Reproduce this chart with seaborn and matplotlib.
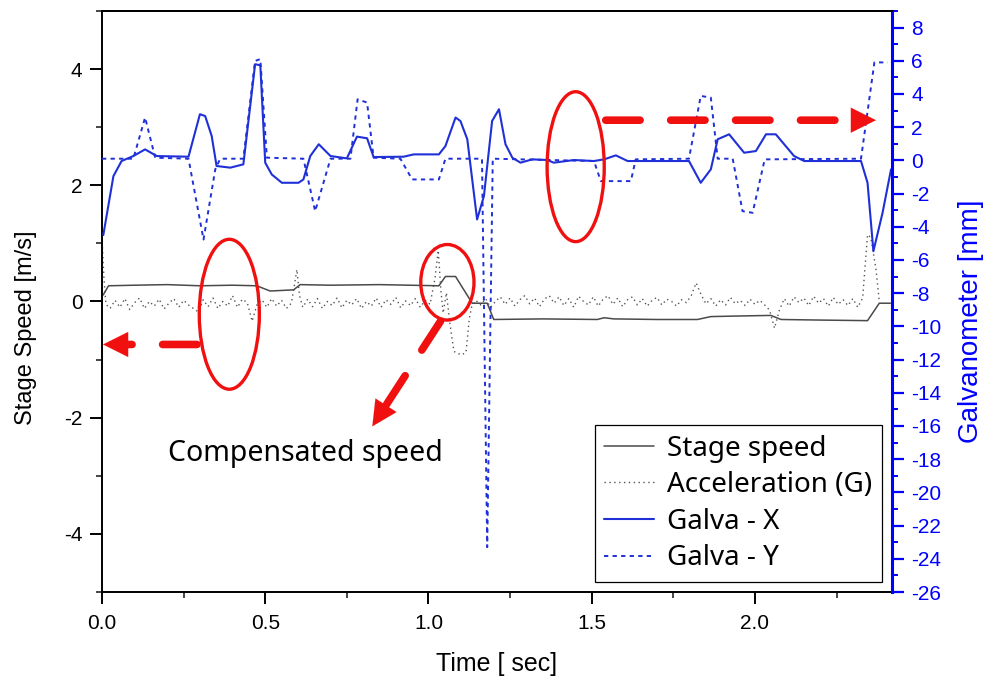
import matplotlib
matplotlib.use("Agg")
import matplotlib.pyplot as plt
import pandas as pd
import seaborn as sns
from matplotlib.patches import Ellipse
from matplotlib.ticker import MultipleLocator

# stage speed [m/s], left axis
speed_t = [0.0, 0.004, 0.02, 0.10, 0.20, 0.30, 0.40, 0.474, 0.515, 0.587, 0.607, 0.70, 0.85,
           1.032, 1.052, 1.083, 1.134, 1.18, 1.20, 1.35, 1.517, 1.538, 1.568, 1.70, 1.824,
           1.865, 1.95, 2.049, 2.08, 2.20, 2.345, 2.381, 2.415]
speed_v = [0.10, 0.115, 0.27, 0.28, 0.29, 0.27, 0.28, 0.27, 0.18, 0.20, 0.29, 0.28, 0.29,
           0.27, 0.43, 0.43, -0.03, -0.03, -0.31, -0.30, -0.31, -0.28, -0.30, -0.31, -0.31,
           -0.26, -0.25, -0.24, -0.31, -0.32, -0.33, -0.03, -0.03]

# acceleration (G), left axis
accel_t = [0.000, 0.006, 0.012, 0.025, 0.04, 0.055, 0.07, 0.085, 0.10, 0.115, 0.13, 0.145,
           0.16, 0.175, 0.19, 0.205, 0.22, 0.235, 0.25, 0.265, 0.28, 0.295, 0.31, 0.325,
           0.34, 0.355, 0.37, 0.385, 0.40, 0.415, 0.43, 0.445, 0.46, 0.475, 0.49, 0.505,
           0.52, 0.535, 0.55, 0.565, 0.58, 0.59, 0.597, 0.605, 0.615, 0.63, 0.645, 0.66,
           0.675, 0.69, 0.705, 0.72, 0.735, 0.75, 0.765, 0.78, 0.795, 0.81, 0.825, 0.84,
           0.855, 0.87, 0.885, 0.90, 0.915, 0.93, 0.945, 0.96, 0.975, 0.99, 1.005, 1.02,
           1.03, 1.038, 1.045, 1.055, 1.065, 1.078, 1.10, 1.115, 1.125, 1.132, 1.145, 1.16,
           1.175, 1.19, 1.205, 1.22, 1.235, 1.25, 1.265, 1.28, 1.295, 1.31, 1.325, 1.34,
           1.355, 1.37, 1.385, 1.40, 1.415, 1.43, 1.445, 1.46, 1.475, 1.49, 1.505, 1.52,
           1.535, 1.55, 1.565, 1.58, 1.595, 1.61, 1.625, 1.64, 1.655, 1.67, 1.685, 1.70,
           1.715, 1.73, 1.745, 1.76, 1.775, 1.79, 1.805, 1.82, 1.835, 1.85, 1.865, 1.88,
           1.895, 1.91, 1.925, 1.94, 1.955, 1.97, 1.985, 2.00, 2.015, 2.03, 2.045, 2.06,
           2.075, 2.09, 2.105, 2.12, 2.135, 2.15, 2.165, 2.18, 2.195, 2.21, 2.225, 2.24,
           2.255, 2.27, 2.285, 2.30, 2.315, 2.33, 2.345, 2.355, 2.371, 2.381]
accel_v = [1.10, 0.40, -0.05, -0.12, 0.02, -0.10, 0.05, -0.14, -0.02, 0.06, -0.12, 0.00,
           -0.08, 0.04, -0.13, -0.03, 0.05, -0.10, 0.02, -0.06, -0.12, -0.18, 0.03, -0.09,
           0.06, -0.12, 0.00, -0.08, 0.10, -0.10, 0.04, -0.02, -0.34, -0.05, 0.03, -0.10,
           0.05, -0.08, 0.02, -0.12, -0.03, 0.30, 0.55, 0.10, -0.10, 0.04, -0.09, 0.05,
           -0.12, 0.00, -0.07, 0.06, -0.11, 0.02, -0.06, 0.05, -0.12, 0.00, -0.08, 0.06,
           -0.10, 0.03, -0.05, 0.07, -0.11, 0.01, -0.07, 0.05, -0.10, 0.02, -0.05, 0.40,
           0.88, 0.20, -0.20, 0.15, -0.35, -0.86, -0.92, -0.88, -0.30, -0.10, 0.02, -0.06,
           0.05, -0.10, 0.00, 0.08, -0.05, 0.06, -0.08, 0.03, 0.10, -0.04, 0.06, -0.09,
           0.04, 0.10, -0.03, 0.08, -0.07, 0.05, -0.10, 0.09, 0.00, -0.06, 0.08, -0.08,
           0.04, 0.10, -0.05, 0.06, -0.09, 0.03, 0.08, -0.06, 0.05, -0.08, 0.02, 0.07,
           -0.06, 0.04, 0.00, -0.08, 0.03, -0.02, 0.10, 0.32, 0.12, -0.04, 0.05, -0.08,
           0.03, -0.06, 0.07, -0.04, 0.02, -0.07, 0.04, -0.05, 0.02, -0.06, -0.15, -0.46,
           -0.15, 0.05, -0.08, 0.08, -0.02, 0.06, -0.07, 0.09, -0.03, 0.05, -0.08, 0.07,
           -0.05, 0.03, -0.07, 0.05, -0.10, 0.06, 1.15, 1.10, 0.55, 0.00]

# galvanometer X [mm], right axis
galva_x_t = [0.004, 0.035, 0.06, 0.096, 0.132, 0.168, 0.265, 0.30, 0.316, 0.336, 0.351, 0.393,
             0.433, 0.469, 0.485, 0.50, 0.52, 0.551, 0.602, 0.617, 0.638, 0.664, 0.70, 0.75,
             0.781, 0.812, 0.832, 0.924, 0.955, 1.032, 1.052, 1.083, 1.098, 1.119, 1.149,
             1.17, 1.195, 1.216, 1.236, 1.257, 1.282, 1.318, 1.364, 1.384, 1.446, 1.507,
             1.538, 1.574, 1.61, 1.798, 1.834, 1.865, 1.886, 1.921, 1.967, 2.003, 2.034,
             2.064, 2.12, 2.151, 2.325, 2.345, 2.363, 2.391, 2.417]
galva_x_v = [-4.5, -0.95, -0.04, 0.26, 0.66, 0.26, 0.22, 2.78, 2.67, 1.47, -0.34, -0.44,
             -0.24, 5.79, 5.73, -0.14, -0.85, -1.35, -1.35, -1.15, 0.26, 0.97, 0.26, 0.12,
             1.43, 1.33, 0.20, 0.22, 0.36, 0.36, 0.86, 2.58, 2.37, 1.27, -3.56,
             -2.15, 2.37, 3.08, 0.97, 0.16, -0.14, 0.06, 0.02, -0.14, 0.02, -0.04,
             0.06, 0.30, -0.04, -0.04, -1.35, -0.54, 1.27, 1.57, 0.46, 0.56, 1.57,
             1.57, 0.26, -0.04, -0.04, -1.35, -5.47, -3.16, -0.54]

# galvanometer Y [mm], right axis
galva_y_t = [0.0, 0.096, 0.132, 0.163, 0.265, 0.311, 0.347, 0.362, 0.433, 0.469, 0.485, 0.505,
             0.617, 0.653, 0.70, 0.761, 0.783, 0.812, 0.832, 0.914, 0.95, 1.032, 1.052,
             1.164, 1.18, 1.197, 1.507, 1.528, 1.62, 1.635, 1.798, 1.834, 1.865, 1.886,
             1.932, 1.962, 1.993, 2.03, 2.325, 2.366, 2.407]
galva_y_v = [0.1, 0.1, 2.58, 0.16, 0.1, -4.77, -0.54, 0.1, 0.1, 5.99, 6.1, 0.16,
             0.1, -3.06, 0.1, 0.1, 3.68, 3.48, 0.16, 0.1, -1.15, -1.15, 0.1,
             0.1, -23.3, 0.1, -0.04, -1.25, -1.25, 0.06, 0.1, 3.88, 3.78, 0.1,
             0.1, -3.06, -3.16, 0.06, 0.1, 5.9, 5.9]

RED = "#f01010"
BLUE = "#0000ff"
LINE_BLUE = "#1f30d8"


def add_arrow(ax, start, tip, lead):
    # dashed shaft plus a solid head, both in left-axis data coordinates
    ax.annotate("", xy=lead, xytext=start, xycoords=ax_left.transData,
                arrowprops=dict(arrowstyle="-", color=RED, lw=5.5,
                                linestyle=(0, (4.5, 4)), shrinkA=0, shrinkB=0))
    ax.annotate("", xy=tip, xytext=lead, xycoords=ax_left.transData,
                arrowprops=dict(arrowstyle="-|>,head_length=1.5,head_width=0.75",
                                color=RED, lw=0.1, shrinkA=0, shrinkB=0))


sns.set_theme(style="ticks")
plt.rcParams["font.family"] = ["Liberation Sans", "DejaVu Sans"]
plt.rcParams["axes.unicode_minus"] = False
plt.rcParams["text.color"] = "black"
plt.rcParams["axes.labelcolor"] = "black"

fig = plt.figure(figsize=(9.96, 6.84), dpi=100)
ax_left = fig.add_axes([0.1024, 0.1345, 0.7932, 0.8495])
ax_right = ax_left.twinx()

speed_df = pd.DataFrame({"t": speed_t, "v": speed_v})
accel_df = pd.DataFrame({"t": accel_t, "v": accel_v})
gx_df = pd.DataFrame({"t": galva_x_t, "v": galva_x_v})
gy_df = pd.DataFrame({"t": galva_y_t, "v": galva_y_v})

sns.lineplot(data=speed_df, x="t", y="v", ax=ax_left, color="#4a4a4a", lw=1.1,
             estimator=None, label="Stage speed")
sns.lineplot(data=accel_df, x="t", y="v", ax=ax_left, color="#555555", lw=1.0,
             linestyle=(0, (1, 2.5)), estimator=None, label="Acceleration (G)")
sns.lineplot(data=gx_df, x="t", y="v", ax=ax_right, color=LINE_BLUE, lw=1.5,
             estimator=None, label="Galva - X")
sns.lineplot(data=gy_df, x="t", y="v", ax=ax_right, color=LINE_BLUE, lw=1.4,
             linestyle=(0, (2.2, 2.2)), estimator=None, label="Galva - Y")

# axes, ticks
ax_left.set_xlim(0, 2.42)
ax_left.set_ylim(-5, 5)
ax_right.set_ylim(-26, 9)
ax_left.xaxis.set_major_locator(MultipleLocator(0.5))
ax_left.xaxis.set_minor_locator(MultipleLocator(0.25))
ax_left.set_yticks([-4, -2, 0, 2, 4])
ax_left.yaxis.set_minor_locator(MultipleLocator(1))
ax_right.set_yticks(list(range(-26, 9, 2)))
ax_right.yaxis.set_minor_locator(MultipleLocator(1))

ax_left.tick_params(axis="both", which="major", direction="out", length=8.5, width=1.4,
                    labelsize=15, color="black", labelcolor="black", pad=5.5)
ax_left.tick_params(axis="x", which="major", pad=7)
ax_left.tick_params(axis="both", which="minor", direction="out", length=4.3, width=1.2)
ax_right.tick_params(axis="y", which="major", direction="out", length=8.5, width=1.6,
                     labelsize=15, color=BLUE, labelcolor=BLUE, pad=5.5)
ax_right.tick_params(axis="y", which="minor", direction="out", length=4.3, width=1.4,
                     color=BLUE)

for side in ["left", "top", "bottom"]:
    ax_left.spines[side].set_linewidth(1.4)
    ax_left.spines[side].set_color("black")
ax_left.spines["right"].set_visible(False)
ax_right.spines["right"].set_color(BLUE)
ax_right.spines["right"].set_linewidth(2.2)
ax_right.spines["top"].set_linewidth(1.4)
ax_right.spines["top"].set_color("black")
ax_right.spines["left"].set_visible(False)
ax_right.spines["bottom"].set_visible(False)

ax_left.set_xlabel("Time [ sec]", fontsize=18, labelpad=14)
ax_left.set_ylabel("Stage Speed [m/s]", fontsize=17)
ax_left.yaxis.set_label_coords(-0.082, 0.455)
ax_right.set_ylabel("Galvanometer [mm]", fontsize=20, color=BLUE)
ax_right.yaxis.set_label_coords(1.083, 0.466)

# legend gathered from both axes, drawn on the upper axes
h1, l1 = ax_left.get_legend_handles_labels()
h2, l2 = ax_right.get_legend_handles_labels()
ax_left.get_legend().remove()
leg = ax_right.legend(h1 + h2, l1 + l2, loc="lower right", bbox_to_anchor=(0.987, 0.017),
                      borderaxespad=0, frameon=True, fancybox=False,
                      prop={"family": ["Noto Sans", "DejaVu Sans"], "size": 20},
                      edgecolor="black", framealpha=1, handlelength=1.8, handletextpad=0.45,
                      labelspacing=0.31, borderpad=0.35)
leg.get_frame().set_linewidth(0.9)
for txt in leg.get_texts():
    txt.set_color("black")

# red annotation overlay (left-axis data coordinates)
for cx, cy, w, h in [(0.39, -0.22, 0.184, 2.58), (1.058, 0.33, 0.163, 1.3),
                     (1.451, 2.32, 0.175, 2.58)]:
    ax_right.add_patch(Ellipse((cx, cy), w, h, transform=ax_left.transData,
                               fill=False, edgecolor=RED, lw=2.4, zorder=6))

add_arrow(ax_right, (0.291, -0.74), (0.003, -0.74), (0.072, -0.74))
add_arrow(ax_right, (1.037, -0.34), (0.828, -2.15), (0.866, -1.82))
add_arrow(ax_right, (1.543, 3.12), (2.371, 3.12), (2.302, 3.12))

ax_left.text(0.202, -2.62, "Compensated speed", fontsize=20.5, va="center", ha="left",
             family=["Noto Sans", "DejaVu Sans"], color="black")

fig.savefig("out.png", dpi=100)
